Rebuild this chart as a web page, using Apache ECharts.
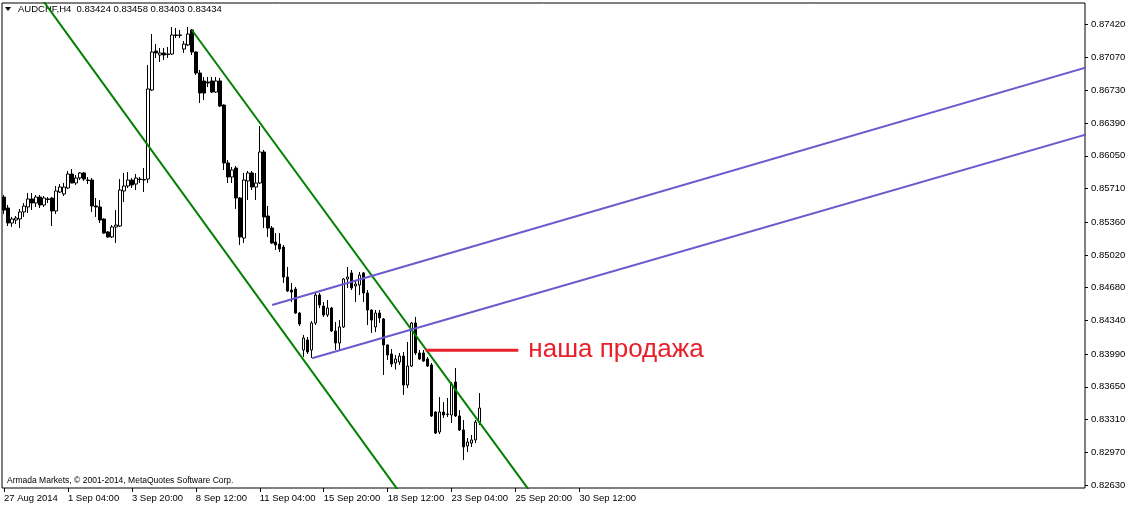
<!DOCTYPE html>
<html><head><meta charset="utf-8">
<script src="https://cdn.jsdelivr.net/npm/echarts@6/dist/echarts.min.js"></script>
<style>html,body{margin:0;padding:0;background:#fff}#c{width:1129px;height:507px}</style>
</head><body><div id="c"></div>
<script>
// ---------- data ----------
const symbolTitle = 'AUDCHF,H4';
const lastBarOHLC = ['0.83424', '0.83458', '0.83403', '0.83434'];
const copyrightText = 'Armada Markets, \u00a9 2001-2014, MetaQuotes Software Corp.';
const xTickLabels = ['27 Aug 2014', '1 Sep 04:00', '3 Sep 20:00', '8 Sep 12:00', '11 Sep 04:00',
  '15 Sep 20:00', '18 Sep 12:00', '23 Sep 04:00', '25 Sep 20:00', '30 Sep 12:00'];
const barsPerLabel = 16;
const totalSlots = 271;
const yTickLabels = [0.87420, 0.87070, 0.86730, 0.86390, 0.86050, 0.85710, 0.85360, 0.85020,
  0.84680, 0.84340, 0.83990, 0.83650, 0.83310, 0.82970, 0.82630];
const yMin = 0.825988;
const yMax = 0.876382;
// [open, close, low, high]
const candles = [
  [0.85622,0.85487,0.85446,0.85643],[0.85508,0.85352,0.85321,0.85539],[0.85352,0.85394,0.85311,0.85415],
  [0.85383,0.85404,0.85342,0.85425],[0.85394,0.85467,0.85300,0.85498],[0.85467,0.85529,0.85415,0.85560],
  [0.85519,0.85602,0.85456,0.85664],[0.85602,0.85560,0.85487,0.85664],[0.85560,0.85622,0.85519,0.85643],
  [0.85622,0.85539,0.85508,0.85643],[0.85539,0.85612,0.85519,0.85633],[0.85602,0.85597,0.85560,0.85622],
  [0.85612,0.85477,0.85321,0.85622],[0.85477,0.85685,0.85446,0.85737],[0.85674,0.85726,0.85664,0.85757],
  [0.85654,0.85726,0.85633,0.85768],[0.85716,0.85861,0.85706,0.85893],[0.85861,0.85768,0.85765,0.85913],
  [0.85768,0.85820,0.85747,0.85851],[0.85820,0.85872,0.85799,0.85882],[0.85872,0.85809,0.85789,0.85882],
  [0.85799,0.85794,0.85757,0.85830],[0.85799,0.85529,0.85467,0.85820],[0.85529,0.85519,0.85415,0.85612],
  [0.85519,0.85383,0.85352,0.85591],[0.85394,0.85248,0.85238,0.85400],[0.85259,0.85207,0.85200,0.85269],
  [0.85207,0.85311,0.85196,0.85331],[0.85311,0.85331,0.85144,0.85487],[0.85321,0.85695,0.85311,0.85809],
  [0.85685,0.85737,0.85570,0.85872],[0.85737,0.85799,0.85716,0.85882],[0.85799,0.85747,0.85716,0.85820],
  [0.85757,0.85820,0.85695,0.85861],[0.85809,0.85804,0.85768,0.85830],[0.85799,0.85804,0.85674,0.85924],
  [0.85809,0.86745,0.85768,0.86994],[0.86734,0.87129,0.86724,0.87316],[0.87139,0.87119,0.87067,0.87212],
  [0.87098,0.87119,0.87025,0.87171],[0.87119,0.87098,0.87046,0.87171],[0.87108,0.87103,0.87067,0.87181],
  [0.87108,0.87306,0.87098,0.87389],[0.87306,0.87301,0.87274,0.87378],[0.87301,0.87306,0.87274,0.87358],
  [0.87160,0.87212,0.87119,0.87243],[0.87202,0.87316,0.87191,0.87389],[0.87358,0.87129,0.87098,0.87368],
  [0.87129,0.86911,0.86890,0.87135],[0.86911,0.86703,0.86599,0.86942],[0.86828,0.86703,0.86630,0.86869],
  [0.86817,0.86807,0.86765,0.86869],[0.86828,0.86713,0.86703,0.86869],[0.86713,0.86828,0.86703,0.86869],
  [0.86828,0.86568,0.86557,0.86859],[0.86578,0.85976,0.85903,0.86585],[0.85976,0.85830,0.85768,0.86007],
  [0.85830,0.85903,0.85768,0.85934],[0.85924,0.85612,0.85498,0.85945],[0.85612,0.85207,0.85124,0.85622],
  [0.85196,0.85799,0.85144,0.85872],[0.85789,0.85872,0.85591,0.85893],[0.85872,0.85726,0.85695,0.85893],
  [0.85726,0.85768,0.85591,0.85872],[0.85768,0.86090,0.85757,0.86360],[0.86090,0.85415,0.85300,0.86111],
  [0.85425,0.85300,0.85207,0.85529],[0.85300,0.85144,0.85134,0.85321],[0.85155,0.85124,0.85072,0.85248],
  [0.85134,0.85082,0.85051,0.85248],[0.85103,0.84791,0.84729,0.85124],[0.84791,0.84646,0.84635,0.84895],
  [0.84656,0.84635,0.84531,0.84729],[0.84666,0.84417,0.84407,0.84687],[0.84417,0.84303,0.84282,0.84428],
  [0.84033,0.84157,0.83960,0.84189],[0.84137,0.84012,0.83991,0.84168],[0.84033,0.84313,0.83950,0.84334],
  [0.84313,0.84604,0.84292,0.84625],[0.84604,0.84500,0.84469,0.84625],[0.84490,0.84397,0.84376,0.84531],
  [0.84397,0.84469,0.84376,0.84552],[0.84469,0.84230,0.84220,0.84479],[0.84230,0.84105,0.84033,0.84324],
  [0.84105,0.84272,0.84033,0.84344],[0.84272,0.84770,0.84262,0.84780],[0.84770,0.84791,0.84677,0.84895],
  [0.84833,0.84677,0.84656,0.84864],[0.84698,0.84718,0.84531,0.84760],[0.84708,0.84812,0.84604,0.84843],
  [0.84833,0.84625,0.84531,0.84843],[0.84625,0.84448,0.84292,0.84656],[0.84448,0.84344,0.84210,0.84455],
  [0.84272,0.84417,0.84220,0.84448],[0.84417,0.84365,0.84313,0.84448],[0.84355,0.84085,0.83773,0.84365],
  [0.84085,0.83981,0.83929,0.84090],[0.83991,0.83887,0.83856,0.84043],[0.83898,0.83939,0.83829,0.83981],
  [0.83908,0.83970,0.83877,0.84002],[0.83970,0.83669,0.83565,0.84012],[0.83669,0.83866,0.83638,0.84116],
  [0.83866,0.84313,0.83856,0.84324],[0.84313,0.84002,0.83981,0.84376],[0.84002,0.83939,0.83929,0.84033],
  [0.84002,0.83918,0.83908,0.84033],[0.83939,0.83866,0.83856,0.83960],[0.83877,0.83347,0.83337,0.83898],
  [0.83388,0.83170,0.83160,0.83395],[0.83181,0.83388,0.83160,0.83544],[0.83388,0.83357,0.83326,0.83492],
  [0.83368,0.83363,0.83337,0.83534],[0.83357,0.83679,0.83274,0.83700],[0.83700,0.83347,0.83337,0.83846],
  [0.83347,0.83202,0.83191,0.83409],[0.83202,0.83025,0.82890,0.83305],[0.83035,0.83077,0.82973,0.83118],
  [0.83066,0.83098,0.83025,0.83150],[0.83098,0.83284,0.83066,0.83305],[0.83284,0.83430,0.83253,0.83585]
];
// trend lines: [bar index, price]
const greenUpper = [[47, 0.87358], [135, 0.82372]];
const greenLower = [[5, 0.87936], [100, 0.82496]];
const purpleUpper = [[67.1, 0.84500], [271, 0.86971]];
const purpleLower = [[77.1, 0.83947], [271, 0.86275]];
const sellLine = [[105.5, 0.84030], [128.7, 0.84030]];
const sellLabel = 'наша продажа';

// ---------- chart ----------
const categories = [];
for (let i = 0; i < totalSlots; i++) {
  const k = i / barsPerLabel;
  categories.push(i % barsPerLabel === 0 && k < xTickLabels.length ? xTickLabels[k] : 'b' + i);
}
const labelFn = (idx) => idx % barsPerLabel === 0 && idx / barsPerLabel < xTickLabels.length;
const font = 'Liberation Sans';
const chart = echarts.init(document.getElementById('c'), null, {renderer: 'canvas'});
const lineSeries = (data, color, width) => ({
  type: 'line', xAxisIndex: 1, data: data, symbol: 'none', clip: true, silent: true, z: 5,
  lineStyle: {color: color, width: width}
});
chart.setOption({
  animation: false,
  backgroundColor: '#fff',
  grid: {left: 2, right: 44, top: 3, bottom: 19, show: true, borderColor: '#000', borderWidth: 1},
  xAxis: [{
    type: 'category', data: categories, boundaryGap: true,
    axisLine: {show: false, onZero: false},
    axisTick: {show: true, interval: labelFn, alignWithLabel: true, length: 4, lineStyle: {color: '#000'}},
    axisLabel: {interval: labelFn, align: 'left', margin: 5, fontFamily: font, fontSize: 9.5, color: '#000'},
    splitLine: {show: false}
  }, {
    type: 'value', min: -0.5, max: totalSlots - 0.5, show: false
  }],
  yAxis: {
    type: 'value', position: 'right', min: yMin, max: yMax,
    axisLine: {show: false, onZero: false}, splitLine: {show: false},
    axisTick: {show: true, length: 3, customValues: yTickLabels, lineStyle: {color: '#000'}},
    axisLabel: {customValues: yTickLabels, formatter: v => v.toFixed(5), margin: 6, fontFamily: font, fontSize: 9.5, color: '#000'}
  },
  series: [
    {
      type: 'candlestick', data: candles, barWidth: 3, z: 2,
      itemStyle: {color: '#fff', color0: '#000', borderColor: '#000', borderColor0: '#000', borderWidth: 1}
    },
    lineSeries(greenLower, '#008000', 2),
    lineSeries(greenUpper, '#008000', 2),
    lineSeries(purpleUpper, '#6a5acd', 2),
    lineSeries(purpleLower, '#6a5acd', 2),
    Object.assign(lineSeries(sellLine, '#e8202a', 3), {
      endLabel: {show: true, formatter: sellLabel, color: '#e8202a', fontFamily: 'Liberation Sans', fontSize: 26, distance: 10}
    })
  ],
  graphic: [
    {type: 'polygon', shape: {points: [[5, 7], [11, 7], [8, 11]]}, style: {fill: '#000'}},
    {type: 'text', left: 18, top: 4, style: {text: symbolTitle + '  ' + lastBarOHLC.join(' '), font: '9.5px "Liberation Sans"', fill: '#000'}},
    {type: 'text', left: 7, top: 476, style: {text: copyrightText, font: '8.5px "Liberation Sans"', fill: '#000'}}
  ]
});
</script>
</body></html>
